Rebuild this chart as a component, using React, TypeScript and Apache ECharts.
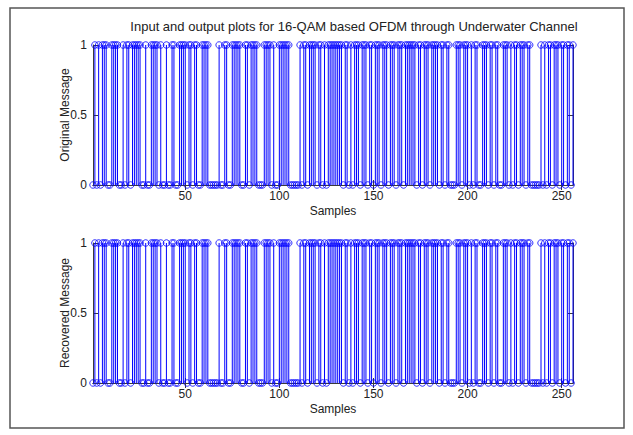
import React, { useEffect, useRef } from "react";
import * as echarts from "echarts";

// Bit sequences (256 samples each)
const originalBits = [
  0,1,0,1,0,1,1,1,0,0,1,1,1,1,0,0,
  1,0,1,1,0,1,1,1,1,1,0,0,1,0,0,1,
  1,1,1,0,1,0,0,1,0,0,1,1,0,0,1,1,
  1,1,0,1,1,0,1,1,0,0,1,1,1,1,0,0,
  0,0,0,1,0,0,1,1,0,0,1,1,1,1,1,0,
  0,1,1,0,1,1,1,1,0,0,0,1,1,1,1,0,
  1,0,0,1,1,1,1,1,1,0,0,0,0,0,1,0,
  1,1,0,1,1,1,1,0,1,1,0,1,0,1,1,1,
  1,1,1,1,1,0,1,1,0,1,0,1,1,1,0,1,
  1,1,0,1,1,0,1,1,1,0,1,1,1,0,1,1,
  1,0,1,1,1,0,1,1,1,1,1,1,0,1,1,0,
  1,1,1,0,1,1,1,1,0,1,1,0,1,1,0,0,
  0,1,1,1,0,1,1,1,0,1,0,1,1,0,0,1,
  1,1,0,1,1,0,1,1,0,0,1,1,1,0,1,0,
  1,1,0,1,1,1,0,1,1,0,0,0,0,0,1,0,
  1,0,1,1,0,1,1,1,0,1,1,0,1,1,0,1,
];
const recoveredBits = [...originalBits];
const sampleIndex = originalBits.map((_, i) => i + 1);
const xTicks = [50, 100, 150, 200, 250];
const yTicks = [0, 0.5, 1];
const titleText = "Input and output plots for 16-QAM based OFDM through Underwater Channel";
const xName = "Samples";
const yNames = ["Original Message", "Recovered Message"];

const BLUE = "#0000ff";
const AXIS = "#3a3a3a";
const FONT = "Liberation Sans";

export default function App() {
  const ref = useRef<HTMLDivElement>(null);
  useEffect(() => {
    if (!ref.current) return;
    const chart = echarts.init(ref.current, null, { renderer: "svg" });
    const grids = [
      { left: 93, width: 480, top: 45, height: 140 },
      { left: 93, width: 480, top: 243, height: 140 },
    ];
    const labelStyle = { color: "#222", fontFamily: FONT, fontSize: 12 };
    const xAxes: any[] = [];
    const yAxes: any[] = [];
    grids.forEach((_, g) => {
      xAxes.push({
        gridIndex: g, type: "value", min: 1, max: 256, position: "bottom",
        axisLine: { show: true, lineStyle: { color: AXIS, width: 1 } },
        axisTick: { show: true, inside: true, length: 5, customValues: xTicks, lineStyle: { color: AXIS } },
        axisLabel: { show: true, customValues: xTicks, margin: 5, ...labelStyle },
        splitLine: { show: false },
        name: xName, nameLocation: "middle", nameGap: 20, nameMoveOverlap: false,
        nameTextStyle: { ...labelStyle },
      });
      xAxes.push({
        gridIndex: g, type: "value", min: 1, max: 256, position: "top",
        axisLine: { show: true, lineStyle: { color: AXIS, width: 1 } },
        axisTick: { show: true, inside: true, length: 5, customValues: xTicks, lineStyle: { color: AXIS } },
        axisLabel: { show: false },
        splitLine: { show: false },
      });
      yAxes.push({
        gridIndex: g, type: "value", min: 0, max: 1, interval: 0.5, position: "left",
        axisLine: { show: true, lineStyle: { color: AXIS, width: 1 } },
        axisTick: { show: true, inside: true, length: 5, lineStyle: { color: AXIS } },
        axisLabel: { show: true, margin: 6, ...labelStyle, customValues: yTicks },
        splitLine: { show: false },
        name: yNames[g], nameLocation: "middle", nameGap: 22, nameRotate: 90, nameMoveOverlap: false,
        nameTextStyle: { ...labelStyle },
      });
      yAxes.push({
        gridIndex: g, type: "value", min: 0, max: 1, interval: 0.5, position: "right",
        axisLine: { show: true, lineStyle: { color: AXIS, width: 1 } },
        axisTick: { show: true, inside: true, length: 5, lineStyle: { color: AXIS } },
        axisLabel: { show: false },
        splitLine: { show: false },
      });
    });

    const datasets = [originalBits, recoveredBits];
    const series: any[] = [];
    datasets.forEach((bits, g) => {
      const data = sampleIndex.map((x, i) => [x, bits[i]]);
      series.push({
        type: "custom",
        xAxisIndex: g * 2, yAxisIndex: g * 2,
        data, encode: { x: 0, y: 1 }, clip: false,
        renderItem: (params: any, api: any) => {
          const x = api.value(0);
          const v = api.value(1);
          const p0 = api.coord([x, 0]);
          const p1 = api.coord([x, v]);
          return {
            type: "line",
            shape: { x1: p0[0], y1: p0[1], x2: p1[0], y2: p1[1] },
            style: { stroke: BLUE, lineWidth: 1 },
          };
        },
      });
      series.push({
        type: "scatter",
        xAxisIndex: g * 2, yAxisIndex: g * 2,
        data, symbol: "circle", symbolSize: 6.5, clip: false,
        itemStyle: { color: "rgba(0,0,0,0)", borderColor: BLUE, borderWidth: 1 },
      });
    });

    chart.setOption({
      animation: false,
      backgroundColor: "#ffffff",
      title: {
        text: titleText, left: 349, top: 15, textAlign: "center",
        textStyle: { color: "#222", fontFamily: FONT, fontSize: 13, fontWeight: "normal" },
      },
      grid: grids,
      xAxis: xAxes,
      yAxis: yAxes,
      series,
      graphic: [
        {
          type: "rect", silent: true, z: 100,
          shape: { x: 10, y: 8, width: 614, height: 420 },
          style: { fill: "none", stroke: "#555", lineWidth: 1.5 },
        },
      ],
    });
    return () => chart.dispose();
  }, []);
  return (
    <div
      ref={ref}
      style={{ position: "fixed", left: 0, top: 0, width: 633, height: 435, background: "#fff" }}
    />
  );
}
